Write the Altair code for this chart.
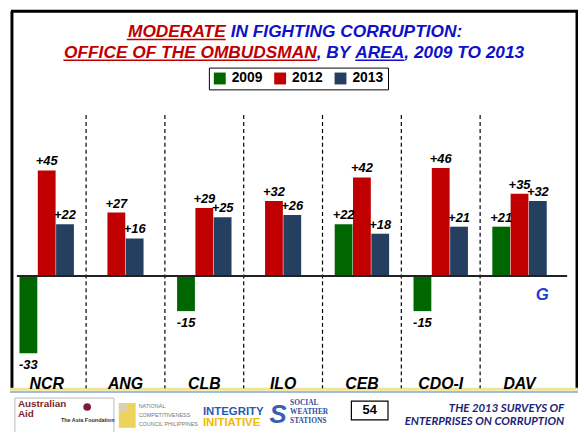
import altair as alt
import pandas as pd

# ---------------- data ----------------
areas = ["NCR", "ANG", "CLB", "ILO", "CEB", "CDO-I", "DAV"]
years = ["2009", "2012", "2013"]
v2009 = [-33, None, -15, None, 22, -15, 21]
v2012 = [45, 27, 29, 32, 42, 46, 35]
v2013 = [22, 16, 25, 26, 18, 21, 32]
colors = ["#006600", "#C00000", "#243F60"]

# ---------------- layout ----------------
W, H = 576, 424
XDOM = [-0.491, 6.742]
YDOM = [-65.6, 113.3]
STEP = 0.2323
BW = 0.226
FONT = "Liberation Sans"
RED = "#C00000"
BLUE = "#1010C8"

rows = []
for i, a in enumerate(areas):
    vals = [(y, v) for y, v in zip(years, [v2009[i], v2012[i], v2013[i]]) if v is not None]
    n = len(vals)
    for k, (y, v) in enumerate(vals):
        c = i + (k - (n - 1) / 2) * STEP
        rows.append(dict(area=a, year=y, value=v, xc=c, x0=c - BW / 2, x1=c + BW / 2,
                         label=(f"+{v}" if v > 0 else f"{v}")))
df = pd.DataFrame(rows)
area_df = pd.DataFrame({"area": areas, "idx": list(range(len(areas)))})
div_df = pd.DataFrame({"pos": [i + 0.5 for i in range(len(areas) - 1)]})

xs = alt.Scale(domain=XDOM, nice=False, zero=False)
ys = alt.Scale(domain=YDOM, nice=False, zero=False)


def one():
    return pd.DataFrame({"t": [0]})


def T(s, x, y, size, color="black", align="center", baseline="middle",
      weight="bold", style="normal", font=FONT):
    return alt.Chart(pd.DataFrame({"t": [s]})).mark_text(
        align=align, baseline=baseline, fontSize=size, fontWeight=weight,
        fontStyle=style, font=font, color=color
    ).encode(x=alt.value(x), y=alt.value(y), text="t:N")


def R(x, x2, y, y2, color, w, dash=None):
    kw = dict(color=color, strokeWidth=w)
    if dash:
        kw["strokeDash"] = dash
    return alt.Chart(one()).mark_rule(**kw).encode(
        x=alt.value(x), x2=alt.value(x2), y=alt.value(y), y2=alt.value(y2))


def RECT(x, x2, y, y2, fill, stroke=None, w=1):
    kw = dict(fill=fill)
    if stroke:
        kw["stroke"] = stroke
        kw["strokeWidth"] = w
    return alt.Chart(one()).mark_rect(**kw).encode(
        x=alt.value(x), x2=alt.value(x2), y=alt.value(y), y2=alt.value(y2))


layers = []

# frame
layers.append(R(4, 4, 1, 382, "black", 3))
layers.append(R(575, 575, 1, 382, "black", 3))
layers.append(R(3, 576, 1, 1, "black", 3))
# footer separators
layers.append(R(2, 576, 383, 383, "#F2E394", 3))
layers.append(R(2, 576, 385.8, 385.8, "#7EA6D8", 1.5))

# title
layers.append(T("MODERATE", 220, 27, 17.5, RED, align="right", baseline="alphabetic", style="italic"))
layers.append(T("IN FIGHTING CORRUPTION:", 225, 27, 17.5, BLUE, align="left", baseline="alphabetic", style="italic"))
layers.append(R(120, 220, 29.5, 29.5, RED, 1.5))
layers.append(T("OFFICE OF THE OMBUDSMAN", 312, 48, 17.5, RED, align="right", baseline="alphabetic", style="italic"))
layers.append(T(", BY", 312, 48, 17.5, BLUE, align="left", baseline="alphabetic", style="italic"))
layers.append(T("AREA", 351, 48, 17.5, BLUE, align="left", baseline="alphabetic", style="italic"))
layers.append(T(", 2009 TO 2013", 400.5, 48, 17.5, BLUE, align="left", baseline="alphabetic", style="italic"))
layers.append(R(56, 312, 50.5, 50.5, RED, 1.5))
layers.append(R(351, 400.5, 50.5, 50.5, BLUE, 1.5))

# dividers
layers.append(alt.Chart(div_df).mark_rule(color="black", strokeWidth=1.2, strokeDash=[4, 3]).encode(
    x=alt.X("pos:Q", scale=xs, axis=None), y=alt.value(106), y2=alt.value(382)))

# bars
layers.append(alt.Chart(df).mark_bar().encode(
    x=alt.X("x0:Q", scale=xs, axis=None), x2="x1:Q",
    y=alt.Y("value:Q", scale=ys, axis=None), y2=alt.datum(0),
    color=alt.Color("year:N", scale=alt.Scale(domain=years, range=colors),
                    legend=alt.Legend(orient="none", legendX=203, legendY=58, direction="horizontal",
                                      title=None, symbolType="square", symbolSize=144,
                                      symbolStrokeWidth=0, labelFont=FONT, labelFontSize=14,
                                      labelFontWeight="bold", labelColor="black", labelOffset=5,
                                      columnPadding=10, padding=4, strokeColor="black",
                                      fillColor="white"))))

# baseline
layers.append(alt.Chart(one()).mark_rule(color="#222222", strokeWidth=2).encode(
    x=alt.value(9), x2=alt.value(565), y=alt.Y("t:Q", scale=ys, axis=None)))

# value labels
layers.append(alt.Chart(df).transform_filter("datum.value > 0").mark_text(
    dy=-5, baseline="alphabetic", fontSize=13, fontStyle="italic", fontWeight="bold", font=FONT, color="black"
).encode(x=alt.X("xc:Q", scale=xs), y=alt.Y("value:Q", scale=ys), text="label:N"))
layers.append(alt.Chart(df).transform_filter("datum.value < 0").mark_text(
    dy=6, baseline="top", fontSize=13, fontStyle="italic", fontWeight="bold", font=FONT, color="black"
).encode(x=alt.X("xc:Q", scale=xs), y=alt.Y("value:Q", scale=ys), text="label:N"))

# area labels
layers.append(alt.Chart(area_df).mark_text(
    baseline="middle", fontSize=16, fontStyle="italic", fontWeight="bold", font=FONT, color="black"
).encode(x=alt.X("idx:Q", scale=xs), y=alt.value(378), text="area:N"))

# G marker
layers.append(T("G", 540, 288, 17, "#1F3FD0", style="italic"))

# footer
layers.append(RECT(7, 107, 392, 430, "white", "#BBBBBB", 1))
layers.append(T("Australian", 10, 398, 10, "#7A1F2B", align="left"))
layers.append(T("Aid", 10, 408, 10, "#7A1F2B", align="left"))
layers.append(T("The Asia Foundation", 80.5, 414, 5.5, "#333333"))
layers.append(alt.Chart(one()).mark_point(shape="circle", filled=True, size=60, color="#7B1B3A", opacity=1).encode(
    x=alt.value(80), y=alt.value(401)))
layers.append(RECT(112, 129, 397, 422, "#EBD35E"))
layers.append(RECT(112, 120, 397, 406, "#D8D0B8"))
layers.append(T("NATIONAL", 132, 400, 5.5, "#777777", align="left", weight="normal"))
layers.append(T("COMPETITIVENESS", 132, 409, 5.5, "#777777", align="left", weight="normal"))
layers.append(T("COUNCIL PHILIPPINES", 132, 418, 5.5, "#777777", align="left", weight="normal"))
layers.append(T("INTEGRITY", 197, 406, 11.5, "#1F5BB5", align="left"))
layers.append(T("INITIATIVE", 197, 417, 11.5, "#F2B800", align="left"))
layers.append(T("S", 273, 409, 26, "#3A5FB0", style="italic"))
layers.append(T("SOCIAL", 285, 397, 7.5, "#2F4F9F", align="left", font="Liberation Serif"))
layers.append(T("WEATHER", 285, 406, 7.5, "#2F4F9F", align="left", font="Liberation Serif"))
layers.append(T("STATIONS", 285, 415, 7.5, "#2F4F9F", align="left", font="Liberation Serif"))
layers.append(RECT(347, 384, 395, 414, "white", "black", 1.2))
layers.append(T("54", 365.5, 404.5, 13, "black"))
layers.append(T("THE 2013 SURVEYS OF", 562, 403, 11.5, "#1E1E78", align="right", style="italic", font="Lato"))
layers.append(T("ENTERPRISES ON CORRUPTION", 562, 416.5, 11.5, "#1E1E78", align="right", style="italic", font="Lato"))

chart = alt.layer(*layers).properties(
    width=W, height=H, padding=0, autosize=alt.AutoSizeParams(type="none"), background="white"
).configure_view(stroke=None)

chart.save("out.html", embed_options={"renderer": "svg", "actions": False})
